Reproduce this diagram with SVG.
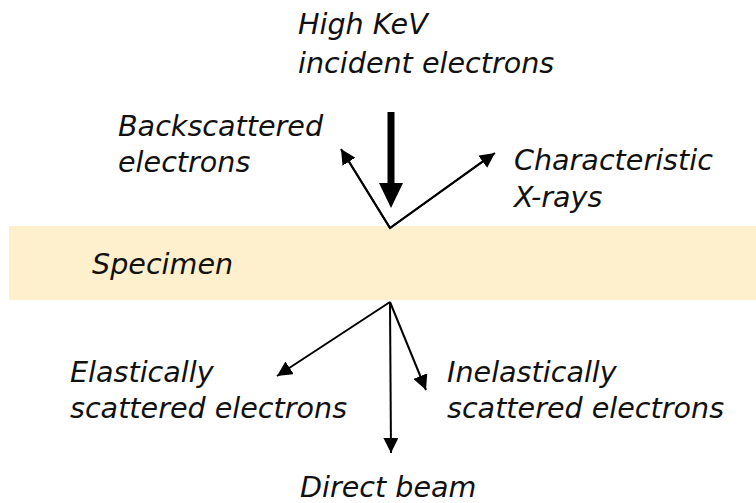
<svg xmlns="http://www.w3.org/2000/svg" width="756" height="503" viewBox="0 0 756 503">
<style>
text{font-family:"DejaVu Sans","Liberation Sans",sans-serif;font-style:oblique;font-size:28.6px;fill:#111}
.thin{stroke:#000;stroke-width:2;fill:none}
</style>
<defs>
<marker id="ah" viewBox="0 0 10 10" refX="10" refY="5" markerWidth="7.5" markerHeight="7.5" markerUnits="strokeWidth" orient="auto">
<path d="M0,0 L10,5 L0,10 z" fill="#000"/>
</marker>
</defs>
<rect width="756" height="503" fill="#fff"/>
<g id="specimen">
<rect x="9" y="226" width="747" height="74" fill="#FEF0CC"/>
<text x="92" y="274">Specimen</text>
</g>
<g id="incident">
<text x="298" y="34">High KeV</text>
<text x="298" y="73">incident electrons</text>
</g>
<g id="backscattered">
<text x="118" y="136">Backscattered</text>
<text x="118" y="172">electrons</text>
</g>
<g id="xrays">
<text x="514" y="170">Characteristic</text>
<text x="514" y="207">X-rays</text>
</g>
<g id="elastic">
<text x="70" y="382">Elastically</text>
<text x="70" y="418">scattered electrons</text>
</g>
<g id="inelastic">
<text x="447" y="382">Inelastically</text>
<text x="447" y="418">scattered electrons</text>
</g>
<g id="direct">
<text x="300" y="497">Direct beam</text>
</g>
<g id="connectors">
<line x1="391" y1="112" x2="391" y2="185" stroke="#000" stroke-width="7"/>
<path d="M379,183 L403,183 L391,208 z" fill="#000"/>
<polyline class="thin" points="345,155 390,228 490,156"/>
<line class="thin" x1="390" y1="228" x2="341" y2="149" marker-end="url(#ah)"/>
<line class="thin" x1="390" y1="228" x2="495" y2="153" marker-end="url(#ah)"/>
<line class="thin" x1="390" y1="302" x2="277" y2="376" marker-end="url(#ah)"/>
<line class="thin" x1="390" y1="302" x2="391" y2="453" marker-end="url(#ah)"/>
<line class="thin" x1="390" y1="302" x2="426" y2="390" marker-end="url(#ah)"/>
</g>
</svg>
